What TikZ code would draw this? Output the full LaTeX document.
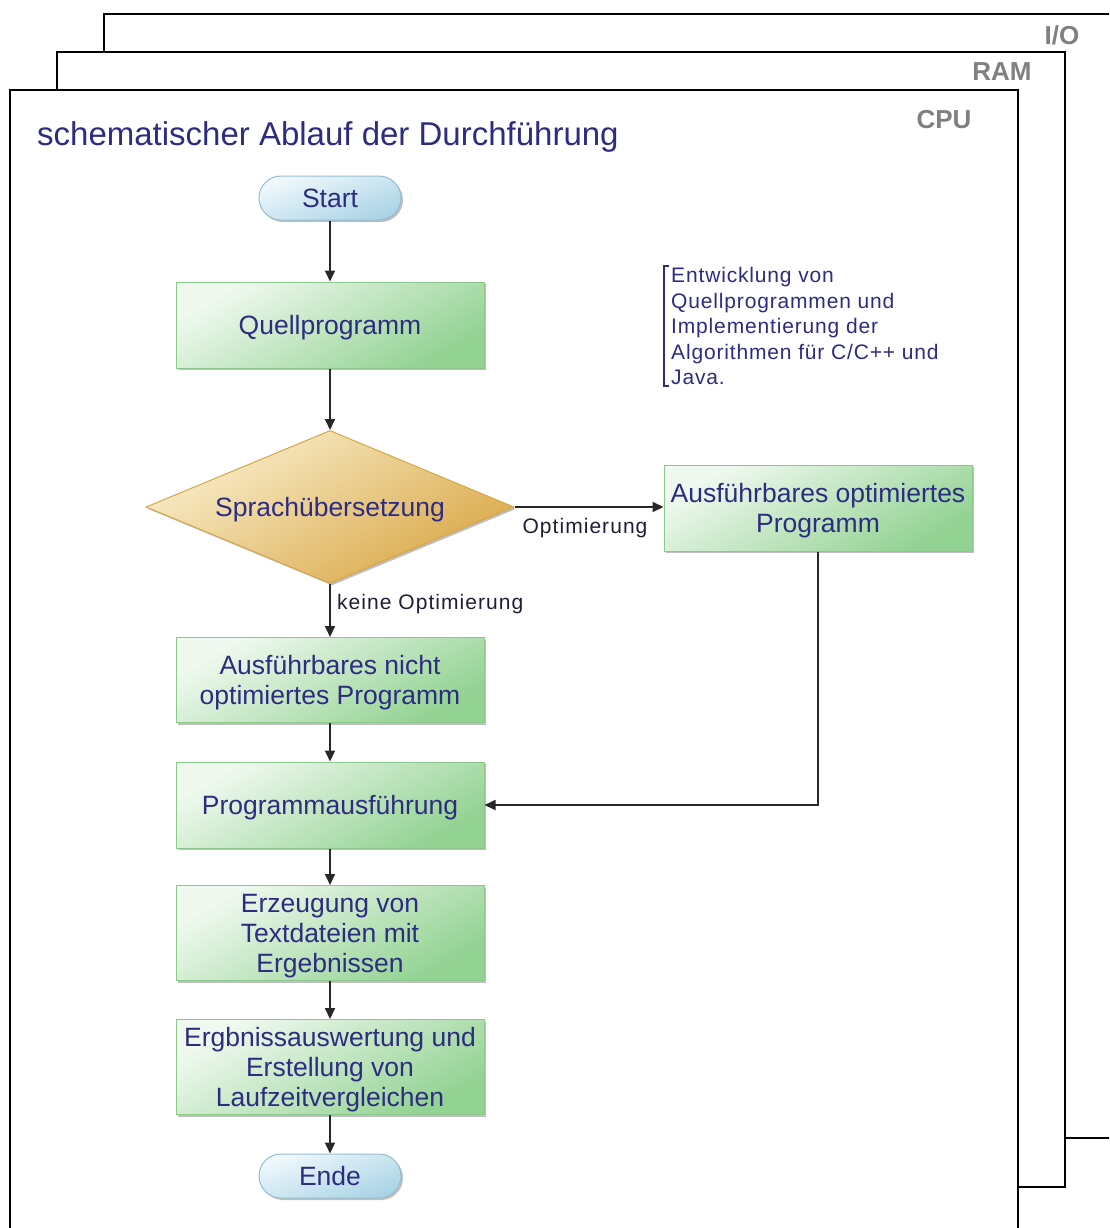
\documentclass[tikz,border=0pt]{standalone}
\usepackage{fontspec}
\setmainfont{Liberation Sans}
\usetikzlibrary{arrows.meta,shapes.geometric,shadows}

\definecolor{txtblue}{RGB}{46,44,128}
\definecolor{lbldark}{RGB}{30,30,55}
\definecolor{framegray}{RGB}{128,128,128}
\definecolor{greentop}{RGB}{240,249,240}
\definecolor{greenbot}{RGB}{146,210,146}
\definecolor{greenline}{RGB}{140,200,140}
\definecolor{bluetop}{RGB}{240,248,252}
\definecolor{bluebot}{RGB}{170,212,230}
\definecolor{blueline}{RGB}{150,190,210}
\definecolor{goldtop}{RGB}{249,238,204}
\definecolor{goldbot}{RGB}{218,168,72}
\definecolor{goldline}{RGB}{212,166,72}
\definecolor{linkgray}{RGB}{40,40,40}

\begin{document}
\begin{tikzpicture}[x=1pt,y=-1pt,
  frame/.style={draw=black, line width=2pt, fill=white},
  framelabel/.style={font=\fontsize{26}{30}\selectfont\bfseries, text=framegray},
  nodeshadow/.style={drop shadow={shadow xshift=2pt, shadow yshift=-2pt, opacity=0.25, fill=black}},
  procbox/.style={draw=greenline, line width=1pt, top color=greentop, bottom color=greenbot,
    shading angle=30, minimum width=308pt, minimum height=86pt, align=center,
    text=txtblue, font=\fontsize{26.5}{30}\selectfont, text depth=-3pt, inner sep=2pt, nodeshadow},
  terminal/.style={draw=blueline, line width=1pt, top color=bluetop, bottom color=bluebot,
    shading angle=20, rounded corners=22pt, minimum width=142pt, minimum height=44pt,
    text=txtblue, font=\fontsize{26.5}{30}\selectfont, inner sep=2pt, nodeshadow},
  decision/.style={diamond, draw=goldline, line width=1pt, top color=goldtop, bottom color=goldbot,
    shading angle=30, minimum width=368pt, minimum height=153pt, aspect=2.4, inner sep=0pt,
    text=txtblue, font=\fontsize{26.5}{30}\selectfont, text depth=-3pt, nodeshadow},
  flow/.style={draw=linkgray, line width=1.8pt, -{Triangle[length=11pt,width=10pt]}},
  edgelabel/.style={text=lbldark, font=\fontsize{21}{24}\selectfont\addfontfeature{LetterSpace=5}, inner sep=0pt},
]
\useasboundingbox (0,0) rectangle (1109,1228);
\clip (0,0) rectangle (1109,1228);

% stacked layers: I/O behind RAM behind CPU
\draw[frame] (104,14) rectangle (1130,1138);
\node[framelabel] (iolbl) at (1062,35) {I/O};
\draw[frame] (57,52) rectangle (1065,1187);
\node[framelabel] (ramlbl) at (1002,72) {RAM};
\draw[frame] (10,90) rectangle (1018,1250);
\node[framelabel] (cpulbl) at (944,120) {CPU};

% heading
\node[anchor=west, text=txtblue, font=\fontsize{33}{36}\selectfont, inner sep=0pt] (title) at (37,137)
  {schematischer Ablauf der Durchführung};

% flow chart nodes
\node[terminal] (start) at (330,198) {Start};
\node[procbox] (quelle) at (330,325) {Quellprogramm};
\node[decision] (uebers) at (330,507) {Sprachübersetzung};
\node[procbox] (opt) at (818,508) {Ausführbares optimiertes\\Programm};
\node[procbox, minimum height=85pt] (nopt) at (330,680) {Ausführbares nicht\\optimiertes Programm};
\node[procbox] (exec) at (330,805) {Programmausführung};
\node[procbox, minimum height=95pt] (erz) at (330,933) {Erzeugung von\\Textdateien mit\\Ergebnissen};
\node[procbox, minimum height=95pt] (erg) at (330,1067) {Ergbnissauswertung und\\Erstellung von\\Laufzeitvergleichen};
\node[terminal] (ende) at (330,1176) {Ende};

% annotation with bracket
\node[anchor=west, align=left, text=txtblue, font=\fontsize{21}{25.5}\selectfont\addfontfeature{LetterSpace=4},
  inner sep=0pt] (note) at (671,326)
  {Entwicklung von\\Quellprogrammen und\\Implementierung der\\Algorithmen für C/C++ und\\Java.};
\draw[txtblue, line width=1.5pt] ([xshift=-2pt,yshift=1pt]note.north west) -- ([xshift=-7pt,yshift=1pt]note.north west)
  -- ([xshift=-7pt,yshift=-1pt]note.south west) -- ([xshift=-2pt,yshift=-1pt]note.south west);

% connectors
\draw[flow] (start) -- (quelle);
\draw[flow] (quelle) -- (uebers);
\draw[flow] (uebers.south) -- (nopt.north);
\draw[flow] (uebers.east) -- (uebers.east -| opt.west);
\draw[flow] (opt.south) |- (exec.east);
\draw[flow] (nopt) -- (exec);
\draw[flow] (exec) -- (erz);
\draw[flow] (erz) -- (erg);
\draw[flow] (erg) -- (ende);

% branch labels
\node[edgelabel, anchor=west] (lblno) at (337,604) {keine Optimierung};
\node[edgelabel] (lblyes) at (585,528) {Optimierung};
\end{tikzpicture}
\end{document}
